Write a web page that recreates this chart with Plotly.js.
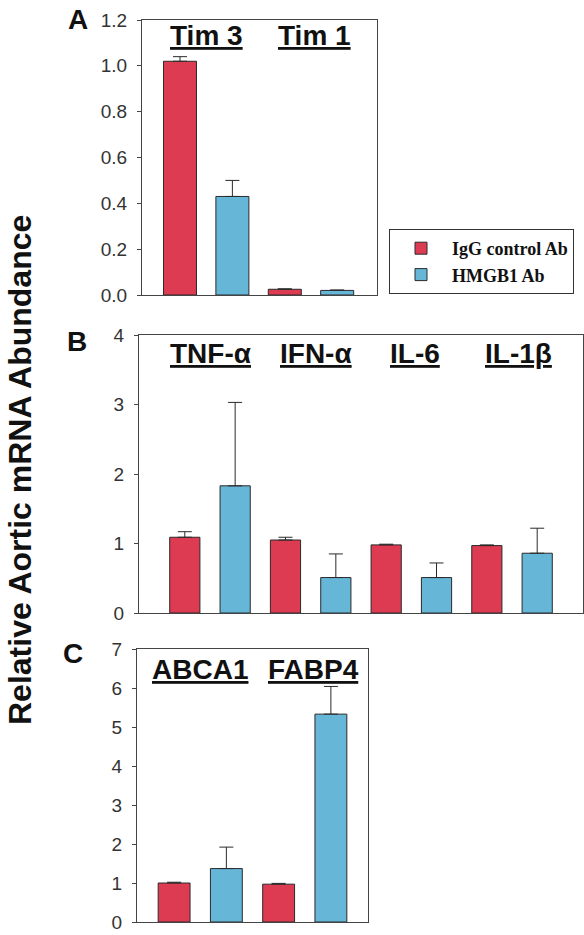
<!DOCTYPE html>
<html>
<head>
<meta charset="utf-8">
<script src="https://cdn.plot.ly/plotly-3.0.1.min.js"></script>
<style>html,body{margin:0;padding:0;background:#fff;}#chart{width:584px;height:935px;}</style>
</head>
<body>
<div id="chart"></div>
<script>
// ---- Data ----
const seriesNames = ['IgG control Ab', 'HMGB1 Ab'];

const catsA = ['Tim 3', 'Tim 1'];
const iggA = [1.02, 0.025];
const iggErrA = [0.02, 0.002];
const hmgA = [0.43, 0.02];
const hmgErrA = [0.07, 0.002];

const catsB = ['TNF-α', 'IFN-α', 'IL-6', 'IL-1β'];
const iggB = [1.09, 1.05, 0.98, 0.97];
const iggErrB = [0.08, 0.04, 0.01, 0.01];
const hmgB = [1.83, 0.51, 0.51, 0.86];
const hmgErrB = [1.20, 0.34, 0.21, 0.36];

const catsC = ['ABCA1', 'FABP4'];
const iggC = [1.00, 0.97];
const iggErrC = [0.02, 0.02];
const hmgC = [1.37, 5.33];
const hmgErrC = [0.55, 0.71];

// ---- Styles ----
const RED = '#DD3B52';
const BLUE = '#66B6D8';
const EDGE = '#2a2a2a';
const W = 584, H = 935;
const px = v => v / W;
const py = v => 1 - v / H;

function barPair(igg, iggErr, hmg, hmgErr, xa, ya, w, legend) {
  const xr = igg.map((_, i) => 2 * i);
  const xb = hmg.map((_, i) => 2 * i + 1);
  const mk = (x, y, err, color, name) => ({
    type: 'bar', x: x, y: y, name: name, width: w,
    xaxis: xa, yaxis: ya,
    marker: {color: color, line: {color: EDGE, width: 1}},
    error_y: {type: 'data', array: err, arrayminus: err.map(() => 0), symmetric: false,
              color: EDGE, thickness: 1, width: 7},
    showlegend: legend, legendgroup: name, hoverinfo: 'skip'
  });
  return [mk(xr, igg, iggErr, RED, seriesNames[0]), mk(xb, hmg, hmgErr, BLUE, seriesNames[1])];
}

const data = [
  ...barPair(iggA, iggErrA, hmgA, hmgErrA, 'x', 'y', 0.63, true),
  ...barPair(iggB, iggErrB, hmgB, hmgErrB, 'x2', 'y2', 0.6, false),
  ...barPair(iggC, iggErrC, hmgC, hmgErrC, 'x3', 'y3', 0.61, false)
];

const axFont = {family: 'Arial, Liberation Sans, sans-serif', size: 19, color: '#333'};
const xBase = {showline: true, mirror: true, linecolor: '#444', linewidth: 1, showgrid: false,
               zeroline: false, showticklabels: false, ticks: '', fixedrange: true};
const yBase = {showline: true, mirror: true, linecolor: '#444', linewidth: 1, showgrid: false,
               zeroline: false, ticks: 'outside', ticklen: 4, tickcolor: '#444',
               tickfont: axFont, ticklabelstandoff: 6, ticklabeloverflow: 'allow', fixedrange: true};

const labFont = {family: 'Arial, Liberation Sans, sans-serif', size: 28, weight: 'bold', color: '#111'};
const grpFont = Object.assign({}, labFont, {lineposition: 'under'});

function ann(text, x, y, font, extra) {
  return Object.assign({text: text, x: px(x), y: py(y), xref: 'paper', yref: 'paper',
    showarrow: false, xanchor: 'center', yanchor: 'middle', font: font}, extra || {});
}

const annotations = [
  ann('A', 78, 20, labFont),
  ann('B', 77, 342, labFont),
  ann('C', 73, 653, labFont),
  ann(catsA[0], 207, 36, grpFont),
  ann(catsA[1], 314, 36, grpFont),
  ann(catsB[0], 210, 353, grpFont),
  ann(catsB[1], 316, 353, grpFont),
  ann(catsB[2], 415, 353, grpFont),
  ann(catsB[3], 518, 353, grpFont),
  ann(catsC[0], 200, 669, grpFont),
  ann(catsC[1], 313, 669, grpFont),
  ann('Relative Aortic mRNA Abundance', 20, 470,
      {family: 'Arial, Liberation Sans, sans-serif', size: 32, weight: 'bold', color: '#111'},
      {textangle: -90})
];

const layout = {
  width: W, height: H,
  margin: {l: 0, r: 0, t: 0, b: 0},
  paper_bgcolor: '#fff', plot_bgcolor: '#fff',
  barmode: 'overlay',
  xaxis: Object.assign({}, xBase, {domain: [px(142), px(377)], range: [-0.725, 3.76], anchor: 'y'}),
  yaxis: Object.assign({}, yBase, {domain: [py(295), py(20)], range: [0, 1.2], dtick: 0.2,
                                   tick0: 0, tickformat: '.1f', anchor: 'x'}),
  xaxis2: Object.assign({}, xBase, {domain: [px(139), px(583)], range: [-0.91, 7.91], anchor: 'y2'}),
  yaxis2: Object.assign({}, yBase, {domain: [py(613), py(335)], range: [0, 4], dtick: 1, anchor: 'x2'}),
  xaxis3: Object.assign({}, xBase, {domain: [px(137), px(368)], range: [-0.71, 3.71], anchor: 'y3'}),
  yaxis3: Object.assign({}, yBase, {domain: [py(922), py(649)], range: [0, 7], dtick: 1, anchor: 'x3'}),
  showlegend: true,
  legend: {x: px(389), y: py(229), xanchor: 'left', yanchor: 'top',
           bgcolor: '#fff', bordercolor: '#333', borderwidth: 1, itemwidth: 52,
           font: {family: 'Liberation Serif, Times New Roman, serif', size: 18, weight: 'bold', color: '#111'},
           tracegroupgap: 0, itemclick: false, itemdoubleclick: false},
  annotations: annotations
};

Plotly.newPlot('chart', data, layout, {staticPlot: true, displayModeBar: false});
</script>
</body>
</html>
